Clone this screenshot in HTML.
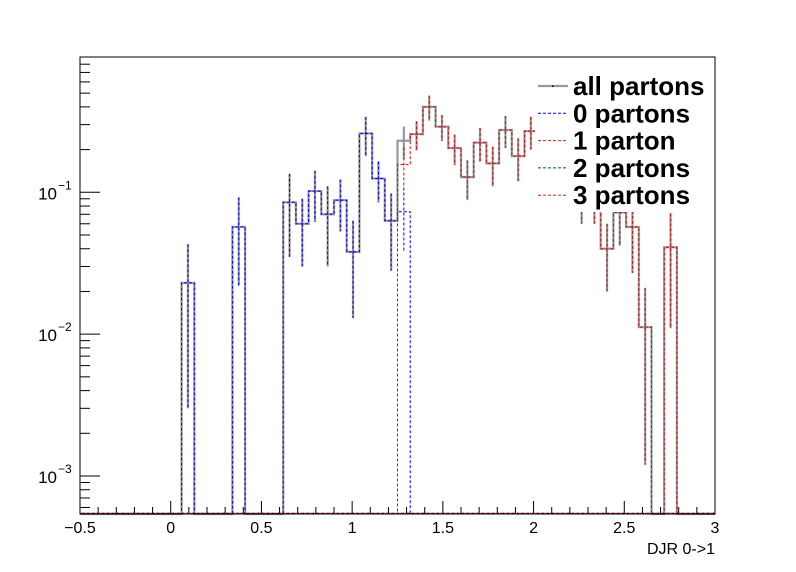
<!DOCTYPE html>
<html><head><meta charset="utf-8"><style>
body{margin:0;background:#fff;}
svg{display:block;font-family:"Liberation Sans",Arial,sans-serif;}
</style></head><body>
<svg id="chart" width="796" height="572" viewBox="0 0 796 572" xmlns="http://www.w3.org/2000/svg">
<rect x="0" y="0" width="796" height="572" fill="#fff"/>
<g id="plot"></g>
<g id="axes"></g>
<g id="legend"></g>
<text x="715" y="554" font-size="16" text-anchor="end">DJR 0-&gt;1</text>
</svg>
<script>
// bin index (k) -> bin low edge = -0.5 + 0.07*k
const binStart = -0.5;
const binWidth = 0.07;
const allBins = [8,12,16,17,18,19,20,21,22,23,24,25,26,27,28,29,30,31,32,33,34,35,36,37,38,39,40,41,42,43,44,46];
const allValues = [0.023,0.057,0.085,0.060,0.102,0.070,0.088,0.038,0.26,0.125,0.063,0.231,0.257,0.40,0.29,0.205,0.128,0.224,0.16,0.275,0.18,0.27,0.2,0.15,0.12,0.1,0.09,0.04,0.072,0.057,0.0112,0.041];
const allErrors = [0.02,0.035,0.05,0.03,0.04,0.04,0.035,0.025,0.08,0.04,0.035,0.06,0.06,0.08,0.06,0.05,0.04,0.06,0.05,0.07,0.06,0.07,0.05,0.05,0.04,0.04,0.03,0.02,0.03,0.03,0.01,0.03];
const zeroBins = [8,12,16,17,18,19,20,21,22,23,24,25];
const zeroValues = [0.023,0.057,0.085,0.060,0.102,0.070,0.088,0.038,0.26,0.125,0.063,0.073];
const zeroErrors = [0.02,0.035,0.05,0.03,0.04,0.04,0.035,0.025,0.08,0.04,0.035,0.035];
const oneBins = [25,26,27,28,29,30,31,32,33,34,35,36,37,38,39,40,41,42,43,44,46];
const oneValues = [0.157,0.257,0.40,0.29,0.205,0.128,0.224,0.16,0.275,0.18,0.27,0.2,0.15,0.12,0.1,0.09,0.04,0.072,0.057,0.0112,0.041];
const oneErrors = [0.05,0.06,0.08,0.06,0.05,0.04,0.06,0.05,0.07,0.06,0.07,0.05,0.05,0.04,0.04,0.03,0.02,0.03,0.03,0.01,0.03];
const xTicks = [-0.5,0,0.5,1,1.5,2,2.5,3];
const xTickLabels = ["\u22120.5","0","0.5","1","1.5","2","2.5","3"];
const yDecades = [-3,-2,-1];
const legendLabels = ["all partons","0 partons","1 parton","2 partons","3 partons"];
const legendColors = ["#999","#00f","#d22","#060","#d22"];

const NS="http://www.w3.org/2000/svg";
const X0=80,X1=715,Y0=57,Y1=514;
const xMin=-0.5,xMax=3;
const decPx=141.85, yRef=192.3;
function xs(v){return X0+(v-xMin)/(xMax-xMin)*(X1-X0);}
function ys(v){if(v<=0)return Y1;const y=yRef-(Math.log10(v)+1)*decPx;return Math.min(Y1,Math.max(Y0,y));}
function mk(tag,attrs,parent){const e=document.createElementNS(NS,tag);for(const k in attrs)e.setAttribute(k,attrs[k]);parent.appendChild(e);return e;}
const plot=document.getElementById('plot'),axes=document.getElementById('axes'),leg=document.getElementById('legend');

function histPath(bins,vals){
  let d='M'+X0+','+Y1;
  const map={};bins.forEach((b,i)=>map[b]=vals[i]);
  for(let k=0;k<50;k++){
    const v=map[k]||0;const y=ys(v);
    const xa=xs(binStart+k*binWidth),xb=xs(binStart+(k+1)*binWidth);
    d+=' L'+xa+','+y+' L'+xb+','+y;
  }
  d+=' L'+X1+','+Y1;return d;
}
function drawSeries(name,bins,vals,errs,color,width,dash){
  const g=mk('g',{},plot);
  
  
  const p=mk('path',{d:histPath(bins,vals),fill:'none',stroke:color,'stroke-width':width},g);
  if(dash)p.setAttribute('stroke-dasharray',dash);
  
  
  bins.forEach((b,i)=>{
    const xc=xs(binStart+(b+0.5)*binWidth);
    const e=mk('line',{x1:xc,x2:xc,y1:ys(vals[i]+errs[i]),y2:ys(vals[i]-errs[i]),stroke:color,'stroke-width':width},g);
    if(dash)e.setAttribute('stroke-dasharray',dash);
    
    
  });
}
drawSeries('all-partons',allBins,allValues,allErrors,'#999',2.2,null);
drawSeries('0-partons',zeroBins,zeroValues,zeroErrors,'#00f',1,'3,2');
drawSeries('1-parton',oneBins,oneValues,oneErrors,'#c11',1,'3,2');
const base=mk('line',{x1:X0,x2:X1,y1:Y1-0.5,y2:Y1-0.5,stroke:'#d22','stroke-width':1.5,'stroke-dasharray':'3,2'},plot);


const base2=mk('line',{x1:X0+2.5,x2:X1,y1:Y1-0.5,y2:Y1-0.5,stroke:'#000','stroke-width':1.5,'stroke-dasharray':'2,3'},plot);



const fr=mk('rect',{x:X0,y:Y0,width:X1-X0,height:Y1-Y0,fill:'none',stroke:'#000','stroke-width':1},axes);


for(let i=0;i<=35;i++){
  const v=-0.5+i*0.1;const x=xs(v);const major=(i%5===0);
  const t=mk('line',{x1:x,x2:x,y1:Y1,y2:Y1-(major?13:7),stroke:'#000','stroke-width':1},axes);
  
  
}
xTicks.forEach((v,i)=>{
  const t=mk('text',{x:xs(v),y:533,'font-size':16,'text-anchor':'middle'},axes);
  t.textContent=xTickLabels[i];
  
  
});
for(let d=-4;d<=0;d++){
  for(let m=1;m<=9;m++){
    const v=m*Math.pow(10,d);const y=yRef-(Math.log10(v)+1)*decPx;
    if(y<Y0||y>Y1)continue;
    const t=mk('line',{x1:X0,x2:X0+(m===1?20:10),y1:y,y2:y,stroke:'#000','stroke-width':1},axes);
    
    
  }
}
yDecades.forEach(d=>{
  const y=yRef-(d+1)*decPx;
  const t=mk('text',{x:57,y:y+7,'font-size':17,'text-anchor':'end'},axes);
  t.textContent='10';
  
  
  const s=mk('text',{x:58,y:y-3,'font-size':12},axes);
  s.textContent='\u2212'+(-d);
  
  
});
const lb=mk('rect',{x:535,y:70,width:175,height:142,fill:'#fff'},leg);


legendLabels.forEach((lab,i)=>{
  const y=86+i*27.3;
  const l=mk('line',{x1:538,x2:568,y1:y,y2:y,stroke:legendColors[i],'stroke-width':i===0?2.2:1},leg);
  if(i>0)l.setAttribute('stroke-dasharray','3,2');
  
  
  if(i===0){
    const m=mk('rect',{x:552,y:y-0.5,width:1.5,height:1.5,fill:'#000'},leg);
    
    
  }
  const t=mk('text',{x:573,y:y+9,'font-size':26,'font-weight':'bold'},leg);
  t.textContent=lab;
  
  
});
</script>
</body></html>
